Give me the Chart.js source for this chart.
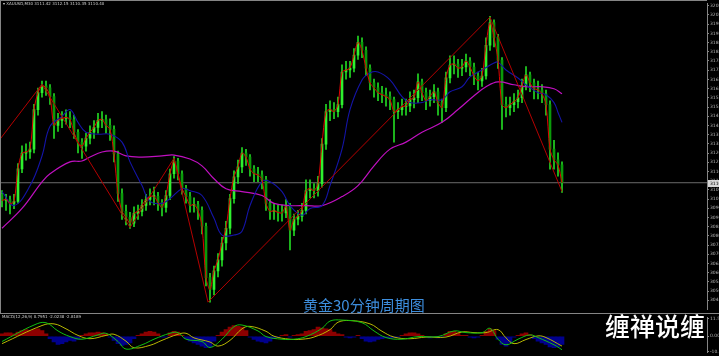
<!DOCTYPE html>
<html><head><meta charset="utf-8">
<script src="https://cdn.jsdelivr.net/npm/chart.js@4.4.1/dist/chart.umd.min.js"></script>
<style>
html,body{margin:0;padding:0;background:#000;width:719px;height:356px;overflow:hidden;}
#wrap{position:relative;width:719px;height:356px;background:#000;}
canvas{position:absolute;left:0;}
#main{top:0;}
#macd{top:314px;}
.ln{position:absolute;background:#858585;}
.tiny{position:absolute;font:4px "DejaVu Sans";color:#cfcfcf;white-space:nowrap;line-height:1;}
#cap{position:absolute;left:303px;top:297px;font:15px "Noto Sans CJK SC";color:#3d8ede;line-height:1;white-space:nowrap;}
#brand{position:absolute;left:605px;top:313px;font:500 25px "Noto Sans CJK SC";color:#fff;line-height:1;white-space:nowrap;}
</style></head>
<body><div id="wrap">
<canvas id="main" width="719" height="313"></canvas>
<canvas id="macd" width="719" height="42"></canvas>
<div class="ln" style="left:0;top:0;width:707px;height:1px"></div>
<div class="ln" style="left:0;top:0;width:1px;height:313px"></div>
<div class="ln" style="left:0;top:313px;width:719px;height:1px"></div>
<div class="tiny" style="left:3px;top:2px">▾ XAUUSD,M30 3111.42 3112.15 3110.35 3110.40</div>
<div class="tiny" style="left:2px;top:315px">MACD(12,26,9) 0.7951 -2.0238 -2.8189</div>
<div id="cap">黄金30分钟周期图</div>
<div id="brand">缠禅说缠</div>
</div>
<script>
// ---------- price data (30-minute bars) ----------
const firstOpen = 3104.0;
const closes = [
3100.5,3101.1,3098.9,3100.0,3118.1,3126.9,3127.5,3129.1,3151.1,3160.5,
3164.3,3163.2,3158.3,3142.3,3145.1,3146.2,3146.7,3145.6,3138.5,3133.0,
3130.8,3135.2,3138.5,3141.2,3145.1,3145.6,3142.3,3140.1,3126.4,3104.4,
3094.5,3091.2,3087.9,3093.4,3094.5,3097.8,3101.1,3102.7,3102.9,3099.4,
3096.7,3103.3,3115.4,3122.5,3115.4,3107.1,3102.7,3097.8,3098.3,3095.0,
3086.2,3057.6,3051.0,3061.4,3067.5,3076.9,3085.1,3101.6,3113.7,3119.2,
3126.9,3124.7,3118.1,3115.4,3114.8,3112.1,3098.9,3094.5,3094.8,3093.9,
3093.6,3097.2,3084.0,3090.1,3091.7,3095.0,3106.0,3107.1,3106.0,3109.9,
3131.9,3150.0,3151.1,3150.0,3153.9,3172.0,3173.1,3174.2,3181.4,3188.5,
3184.1,3174.2,3166.0,3163.2,3160.5,3159.4,3158.3,3156.6,3150.0,3151.1,
3152.8,3153.1,3156.6,3157.7,3166.5,3160.5,3156.1,3158.3,3161.0,3155.0,
3152.2,3168.7,3175.9,3176.4,3174.2,3174.8,3178.1,3174.8,3169.8,3167.1,
3169.8,3186.9,3199.5,3191.3,3178.6,3153.9,3152.2,3153.9,3155.5,3157.7,
3164.3,3170.4,3166.0,3162.7,3162.1,3159.9,3153.9,3129.1,3123.1,3120.3,
3110.4];
const highs = [
3106,3104,3103,3104,3121,3131,3132,3133,3154,3163,
3167,3167,3165,3160,3149,3150,3151,3150,3148,3140,
3135,3138,3142,3145,3149,3150,3148,3146,3142,3128,
3107,3098,3094,3097,3098,3101,3104,3107,3108,3105,
3101,3106,3118,3125,3124,3117,3109,3105,3102,3100,
3097,3088,3060,3064,3071,3080,3089,3104,3117,3123,
3130,3129,3126,3120,3119,3117,3114,3101,3099,3098,
3098,3101,3099,3093,3095,3099,3112,3112,3110,3114,
3135,3154,3156,3155,3158,3176,3178,3178,3185,3192,
3191,3186,3176,3168,3166,3164,3163,3161,3158,3155,
3157,3157,3161,3162,3171,3168,3163,3162,3165,3163,
3157,3172,3181,3181,3179,3179,3182,3180,3177,3172,
3174,3191,3203,3201,3193,3180,3158,3158,3160,3162,
3168,3175,3172,3168,3167,3165,3162,3156,3134,3127,
3122];
const lows = [
3097,3095,3093,3096,3099,3116,3123,3124,3127,3148,
3158,3159,3154,3135,3139,3141,3143,3141,3135,3127,
3124,3128,3132,3135,3138,3141,3138,3134,3122,3100,
3090,3087,3085,3086,3090,3092,3095,3098,3098,3095,
3092,3094,3101,3113,3112,3104,3099,3094,3094,3090,
3082,3053,3044,3048,3058,3064,3073,3082,3099,3110,
3116,3120,3114,3111,3111,3107,3095,3090,3090,3089,
3089,3091,3073,3081,3087,3089,3093,3102,3102,3103,
3108,3129,3145,3146,3147,3152,3168,3169,3172,3179,
3180,3170,3162,3158,3156,3155,3153,3151,3133,3146,
3148,3148,3150,3152,3155,3156,3151,3153,3155,3148,
3144,3150,3166,3171,3169,3170,3172,3170,3165,3162,
3164,3168,3184,3186,3174,3140,3147,3148,3150,3152,
3155,3162,3161,3157,3157,3155,3148,3118,3118,3114,
3105];
const opens = [firstOpen].concat(closes.slice(0, -1));

// slow moving averages, read at sample bars
const blueIdx = [0,3,7,10,12,15,17,19,21,24,27,30,32,35,37,40,42,45,47,50,53,55,58,60,62,65,67,70,72,75,77,80,82,85,87,90,92,94,97,100,102,105,107,110,112,115,117,120,123,124,126,129,131,134,136,138,139,140];
const blueVal = [3105.5,3097.7,3108.7,3125.3,3141.8,3147.3,3151.1,3144.0,3138.5,3137.4,3137.4,3133.0,3122.0,3108.8,3100.0,3098.9,3101.6,3107.1,3106.0,3103.3,3090.6,3081.3,3081.3,3083.4,3097.7,3111.0,3111.0,3105.5,3097.7,3092.3,3096.1,3097.7,3108.8,3129.1,3151.1,3167.6,3171.5,3172.0,3167.6,3158.3,3155.0,3155.0,3156.6,3156.6,3161.0,3163.8,3169.3,3173.1,3177.0,3177.5,3173.1,3168.7,3164.9,3160.5,3159.4,3155.0,3149.5,3144.0];
const magIdx = [0,5,10,12,17,20,22,25,28,31,35,40,43,47,50,53,56,60,65,68,72,76,80,85,89,93,97,101,105,110,114,118,121,124,128,131,135,138,140];
const magVal = [3085.1,3096.1,3110.9,3115.4,3122.0,3122.5,3124.7,3127.5,3128.0,3125.3,3124.7,3125.3,3125.8,3123.6,3119.8,3112.6,3107.1,3105.5,3103.3,3098.9,3097.7,3097.7,3097.7,3102.7,3108.8,3119.8,3129.1,3133.0,3138.5,3144.0,3151.1,3158.8,3163.8,3166.5,3164.9,3163.8,3163.8,3162.7,3159.9];
const zigIdx = [-0.5,10,32,43,51.5,122,140];
const zigVal = [3134.6,3165.2,3085.5,3124.0,3044.0,3202.5,3105.5];

// right axis tick labels
const priceTicks = [3208.85,3203.73,3198.61,3193.49,3188.37,3183.25,3178.13,3173.01,3167.89,3162.77,3157.65,3152.53,3147.41,3142.29,3137.17,3132.05,3126.93,3121.81,3116.69,3111.57,3106.45,3101.33,3096.21,3091.09,3085.97,3080.85,3075.73,3070.61,3065.49,3060.37,3055.25,3050.13,3045.01];

// ---------- MACD panel ----------
const hist = [
1.5,2,2,1.5,2.5,3.5,4,3.5,4,4.5,
3.5,1.5,-1.5,-3.5,-5,-4.5,-3.5,-2.5,-3,-2,
0.5,1.5,2,2,2.5,2,1.5,-0.5,-2.5,-4.5,
-5.5,-5,-4,-1.5,0.5,1.5,2.5,3,2.5,1.5,
-0.5,-0.5,2,3,2.5,0.5,-1.5,-3,-4,-5,
-6,-7,-6.5,-3,0.5,2.5,4,5.5,6.5,6,
5.5,3.5,-0.5,-2,-3,-3.5,-4,-3,-1.5,-0.5,
0.5,1,-0.5,0.5,1,1.5,3,3.5,4,5.5,
5,4.5,4,2.5,1.5,1,-0.5,-1,-0.5,0.5,
-1.5,-3,-3.5,-3,-2,-1.5,-1,-1,-1,-0.5,
0.5,1.5,2,2,1.5,0.5,-0.5,-1,-0.5,-1,
-0.5,1.5,3,3,2,0.5,0.5,-0.5,-1,-0.5,
0.5,3,4.5,3.5,-2,-5,-6,-4,-0.5,0.5,
1.5,2,1,-1.5,-3,-4,-5,-6.5,-7,-6.5,
-5];
const macdIdx = [0,8,11,14,17,20,24,26,29,31,35,38,42,44,46,50,52,55,58,60,64,66,70,73,76,80,82,85,90,93,96,100,104,109,113,116,120,122,124,126,129,132,134,138,140];
const macdVal = [-3.2,6.8,8.2,3.2,-0.2,-1.8,0.8,1.8,-3.2,-7.8,-5.2,-1.8,1.8,2.2,-1.8,-3.2,-6.8,-1.8,5.8,6.8,3.2,-0.2,-1.8,-1.8,-0.2,4.8,9.2,9.8,8.2,3.2,-0.8,-1.8,-0.2,-0.2,3.2,2.2,2.2,4.8,-1.8,-5.2,-1.8,0.8,-0.8,-5.2,-8.2];
const sigIdx = [0,10,13,16,19,22,26,28,31,33,37,40,44,46,48,52,54,57,60,62,66,68,72,75,78,82,84,87,92,95,98,102,106,111,115,118,121,124,126,128,131,134,136,140];
const sigVal = [-4.5,6.5,7.5,4.5,0.5,-1.5,0.5,1.2,-3,-7,-5.5,-2.5,1.2,1.8,-1,-3.5,-6,-2.5,4.5,6,3,0,-1.8,-1.8,-0.5,4,8.5,9.5,7.5,3,-0.5,-1.5,-0.5,-0.5,2.6,2.2,2.2,4,-1,-4.5,-2,0.2,-0.8,-6];
const macdTickValues = [10.75, 0, -9.25];
const macdTickLabels = ['11.5802', '0.00', '-10.0596'];

// ---------- helpers ----------
const pts = (xs, ys) => xs.map((x, k) => ({x: x, y: ys[k]}));
const idx = closes.map((_, i) => i);
const X_MIN = -0.5, X_MAX = 176.25;
const lastClose = closes[closes.length - 1];
const axisFont = {family: 'DejaVu Sans', size: 4.5};

const priceTag = {
  id: 'priceTag',
  afterDraw(chart) {
    const ys = chart.scales.y;
    const y = Math.round(ys.getPixelForValue(lastClose));
    const ctx = chart.ctx;
    ctx.save();
    ctx.fillStyle = '#d6d6d6';
    ctx.fillRect(708, y - 3, 11, 7);
    ctx.fillStyle = '#000';
    ctx.font = '4.5px "DejaVu Sans"';
    ctx.textBaseline = 'middle';
    ctx.fillText(lastClose.toFixed(2), 710, y + 0.5);
    ctx.restore();
  }
};

Chart.defaults.font.family = 'DejaVu Sans';

new Chart(document.getElementById('main'), {
  type: 'bar',
  data: {
    datasets: [
      {type: 'line', data: [{x: X_MIN, y: lastClose}, {x: X_MAX, y: lastClose}], borderColor: '#6b6b6b', borderWidth: 1, pointRadius: 0, order: 10},
      {type: 'bar', data: idx.map(i => ({x: i, y: [lows[i], highs[i]]})), backgroundColor: '#22d822', barThickness: 1, grouped: false, order: 8},
      {type: 'bar', data: idx.map(i => ({x: i, y: [opens[i], closes[i]]})),
        backgroundColor: idx.map(i => closes[i] >= opens[i] ? '#2ef02e' : '#0a9a0a'),
        barThickness: 2, minBarLength: 1, grouped: false, order: 7},
      {type: 'line', data: pts(magIdx, magVal), borderColor: '#c010c0', borderWidth: 1.2, pointRadius: 0, tension: 0.4, order: 5},
      {type: 'line', data: pts(blueIdx, blueVal), borderColor: '#1414a8', borderWidth: 1.1, pointRadius: 0, tension: 0.4, order: 4},
      {type: 'line', data: idx.map(i => ({x: i, y: closes[i]})), borderColor: '#e00000', borderWidth: 1, pointRadius: 0, tension: 0.3, order: 3},
      {type: 'line', data: pts(zigIdx, zigVal), borderColor: '#b40000', borderWidth: 1, pointRadius: 0, tension: 0, order: 2}
    ]
  },
  options: {
    responsive: false, animation: false, devicePixelRatio: 1, events: [],
    layout: {padding: {top: 3, bottom: 1, left: 0, right: 0}},
    plugins: {legend: {display: false}, tooltip: {enabled: false}},
    scales: {
      x: {type: 'linear', min: X_MIN, max: X_MAX, display: false, offset: false},
      y: {
        position: 'right', min: 3040, max: 3210,
        afterFit: s => { s.width = 12; },
        afterBuildTicks: s => { s.ticks = priceTicks.map(v => ({value: v})); },
        ticks: {font: axisFont, color: '#b4b4b4', padding: 1, autoSkip: false, callback: v => v.toFixed(2)},
        grid: {drawOnChartArea: false, color: '#858585', tickLength: 2},
        border: {display: true, color: '#858585'}
      }
    }
  },
  plugins: [priceTag]
});

new Chart(document.getElementById('macd'), {
  type: 'bar',
  data: {
    datasets: [
      {type: 'line', data: pts(sigIdx, sigVal), borderColor: '#b8b800', borderWidth: 1, pointRadius: 0, tension: 0.4, order: 2},
      {type: 'line', data: pts(macdIdx, macdVal), borderColor: '#10c010', borderWidth: 1, pointRadius: 0, tension: 0.4, order: 1},
      {type: 'bar', data: idx.map(i => ({x: i, y: hist[i]})),
        backgroundColor: hist.map(v => v >= 0 ? '#8c0000' : '#00008c'),
        barThickness: 4, grouped: false, order: 5}
    ]
  },
  options: {
    responsive: false, animation: false, devicePixelRatio: 1, events: [],
    layout: {padding: 0},
    plugins: {legend: {display: false}, tooltip: {enabled: false}},
    scales: {
      x: {type: 'linear', min: X_MIN, max: X_MAX, display: false, offset: false},
      y: {
        position: 'right', min: -9.75, max: 11.25,
        afterFit: s => { s.width = 12; },
        afterBuildTicks: s => { s.ticks = macdTickValues.map(v => ({value: v})); },
        ticks: {font: axisFont, color: '#b4b4b4', padding: 1, autoSkip: false, callback: (v, i) => macdTickLabels[i]},
        grid: {drawOnChartArea: false, color: '#858585', tickLength: 2},
        border: {display: true, color: '#858585'}
      }
    }
  }
});
</script>
</body></html>
